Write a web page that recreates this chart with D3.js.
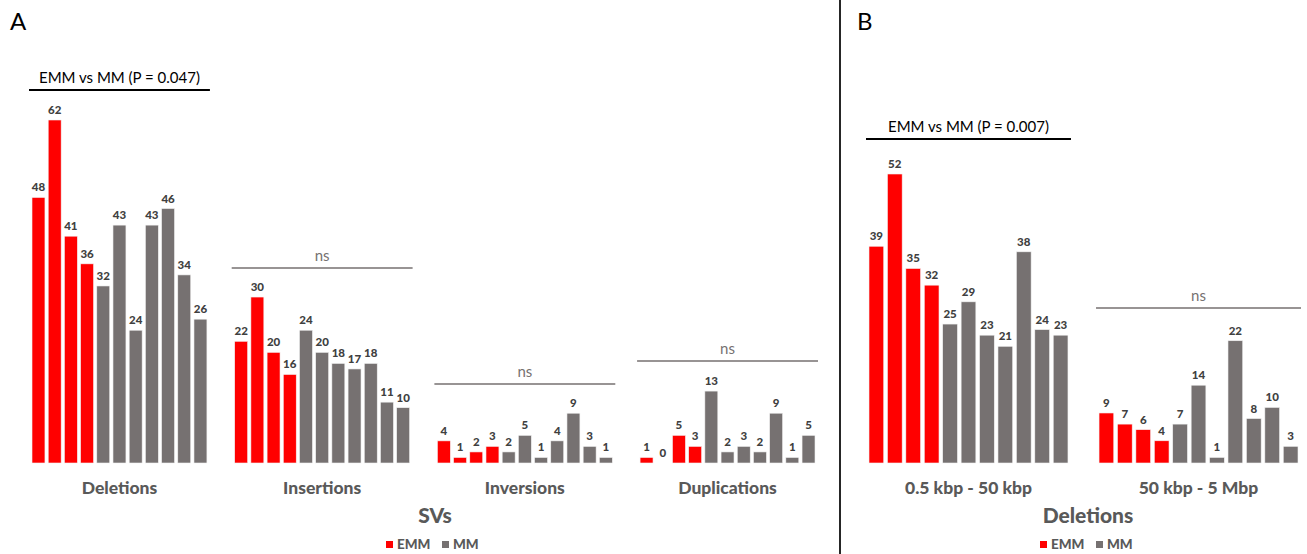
<!DOCTYPE html>
<html>
<head>
<meta charset="utf-8">
<script src="https://cdn.jsdelivr.net/npm/d3@7"></script>
<style>
  body { margin: 0; background: #fff; }
  svg { display: block; font-family: Lato, "Open Sans", sans-serif; }
</style>
</head>
<body>
<svg id="chart" width="1307" height="554"></svg>
<script>
// data
const groupsA = ["Deletions", "Insertions", "Inversions", "Duplications"];
const emmA = [[48, 62, 41, 36], [22, 30, 20, 16], [4, 1, 2, 3], [1, 0, 5, 3]];
const mmA = [[32, 43, 24, 43, 46, 34, 26], [24, 20, 18, 17, 18, 11, 10], [2, 5, 1, 4, 9, 3, 1], [13, 2, 3, 2, 9, 1, 5]];
const sigA = ["EMM vs MM (P = 0.047)", "ns", "ns", "ns"];

const groupsB = ["0.5 kbp - 50 kbp", "50 kbp - 5 Mbp"];
const emmB = [[39, 52, 35, 32], [9, 7, 6, 4]];
const mmB = [[25, 29, 23, 21, 38, 24, 23], [7, 14, 1, 22, 8, 10, 3]];
const sigB = ["EMM vs MM (P = 0.007)", "ns"];

const red = "#ff0000", grey = "#767171";
const svg = d3.select("#chart");
const base = 463;

function panel(opts) {
  const { groups, emm, mm, sig, x0, x1, yMaxVal, yTop, sigY, title, titleX, legendX } = opts;
  const y = d3.scaleLinear().domain([0, yMaxVal]).range([base, yTop]);
  const gx = d3.scaleBand().domain(groups).range([x0, x1]).paddingInner(opts.gpad);
  const bx = d3.scaleBand().domain(d3.range(11)).range([0, gx.bandwidth()]).paddingInner(0.2);

  groups.forEach((name, gi) => {
    const vals = emm[gi].map(v => ({ v, c: red })).concat(mm[gi].map(v => ({ v, c: grey })));
    const g = svg.append("g").attr("transform", `translate(${gx(name)},0)`);

    g.selectAll("rect").data(vals).join("rect")
      .attr("x", (d, i) => bx(i))
      .attr("y", d => y(d.v))
      .attr("width", bx.bandwidth())
      .attr("height", d => base - y(d.v))
      .attr("fill", d => d.c)
      .attr("stroke", "#f2f2f2")
      .attr("stroke-width", 0.6);

    g.selectAll("text.val").data(vals).join("text")
      .attr("class", "val")
      .attr("x", (d, i) => bx(i) + bx.bandwidth() / 2)
      .attr("y", d => y(d.v) - 6)
      .attr("text-anchor", "middle")
      .attr("font-size", 11.5)
      .attr("font-weight", 900)
      .attr("fill", "#404040")
      .text(d => d.v);

    g.append("text")
      .attr("x", gx.bandwidth() / 2)
      .attr("y", 494)
      .attr("text-anchor", "middle")
      .attr("font-size", 17.5)
      .attr("font-weight", 900)
      .attr("fill", "#595959")
      .text(name);

    // significance bracket
    const significant = sig[gi] !== "ns";
    const ly = sigY[gi];
    g.append("line")
      .attr("x1", -3).attr("x2", gx.bandwidth() + 3)
      .attr("y1", ly).attr("y2", ly)
      .attr("stroke", significant ? "#000" : grey)
      .attr("stroke-width", significant ? 2 : 1.6);
    g.append("text")
      .attr("x", gx.bandwidth() / 2)
      .attr("y", ly - 7)
      .attr("text-anchor", "middle")
      .attr("font-size", 15)
      .attr("fill", significant ? "#000" : grey)
      .text(sig[gi]);
  });

  svg.append("text")
    .attr("x", titleX).attr("y", 523)
    .attr("text-anchor", "middle")
    .attr("font-size", 21)
    .attr("font-weight", 900)
    .attr("fill", "#595959")
    .text(title);

  const lg = svg.append("g").attr("transform", `translate(${legendX},0)`);
  [["EMM", red, 0], ["MM", grey, 56]].forEach(([t, c, dx]) => {
    lg.append("rect").attr("x", dx).attr("y", 541).attr("width", 7).attr("height", 7).attr("fill", c);
    lg.append("text").attr("x", dx + 11).attr("y", 549)
      .attr("font-size", 13.5).attr("font-weight", 900).attr("fill", "#595959").text(t);
  });
}

panel({
  groups: groupsA, emm: emmA, mm: mmA, sig: sigA,
  x0: 32, x1: 815, gpad: 0.137, yMaxVal: 62, yTop: 120,
  sigY: [90, 268, 384, 361], title: "SVs", titleX: 435, legendX: 386
});

panel({
  groups: groupsB, emm: emmB, mm: mmB, sig: sigB,
  x0: 869, x1: 1298, gpad: 0.135, yMaxVal: 52, yTop: 174,
  sigY: [139, 308], title: "Deletions", titleX: 1088, legendX: 1040
});

// panel letters and divider
svg.append("line").attr("x1", 840).attr("x2", 840).attr("y1", 0).attr("y2", 554)
  .attr("stroke", "#262626").attr("stroke-width", 2);
svg.append("text").attr("x", 10).attr("y", 30).attr("font-size", 24).attr("fill", "#000").text("A");
svg.append("text").attr("x", 857).attr("y", 30).attr("font-size", 24).attr("fill", "#000").text("B");
</script>
</body>
</html>
